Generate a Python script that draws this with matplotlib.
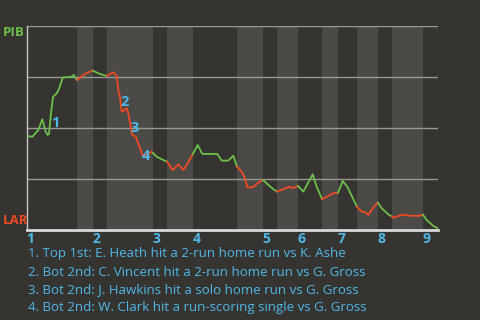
import numpy as np
import matplotlib
matplotlib.use("Agg")
from matplotlib import pyplot as plt

# win probability for PIB (1 = PIB, 0 = LAR)
prog = [0, 5.3, 11.3, 15.3, 18.7, 20.7, 22, 24, 26, 29.7, 32.3, 35.7, 44.7, 46.7, 50,
        56.3, 61.3, 66, 71.3, 76.3, 80, 86.3, 89.7, 91.3, 93, 94.7, 97.3, 99.7, 101.3,
        104, 105.3, 108.7, 113, 115.3, 119.7, 124.7, 129.7, 133, 136.3, 140,
        145.7, 151.3, 156.3, 159.7, 166, 170.7, 175.3, 190.3, 194.7, 201.3, 206.3, 210,
        214.7, 218, 220.3, 225.7, 231.3, 236, 241.3, 246.3, 250, 256.3, 262.3, 266.3, 271,
        276.3, 285.7, 289.7, 295, 299.7, 306.3, 311, 315.7, 320.3, 330, 334.7, 338, 341.3,
        346.3, 351, 354.7, 361.3, 365, 367, 371.3, 378, 383, 391.3, 396, 399.7, 406.3, 411]
wp = [0.461, 0.457, 0.490, 0.543, 0.482, 0.466, 0.471, 0.572, 0.653, 0.670, 0.695, 0.747,
      0.751, 0.760, 0.735, 0.760, 0.773, 0.781, 0.768, 0.760, 0.756, 0.773, 0.756, 0.686,
      0.653, 0.580, 0.588, 0.597, 0.572, 0.499, 0.466, 0.457, 0.400, 0.368, 0.368, 0.384,
      0.359, 0.351, 0.343, 0.335, 0.294, 0.322, 0.294, 0.319, 0.373, 0.417, 0.373, 0.373,
      0.340, 0.340, 0.364, 0.310, 0.286, 0.253, 0.209, 0.209, 0.232, 0.245, 0.221, 0.200,
      0.188, 0.200, 0.212, 0.205, 0.216, 0.188, 0.273, 0.212, 0.152, 0.163, 0.180, 0.183,
      0.240, 0.212, 0.114, 0.090, 0.087, 0.074, 0.111, 0.134, 0.106, 0.077, 0.066, 0.060,
      0.069, 0.075, 0.070, 0.069, 0.075, 0.049, 0.020, 0.008]

# half-inning boundaries (top 1, bot 1, top 2, ...)
halves = [0, 50, 66, 80, 126, 140, 166, 210, 236, 250, 271, 295, 311, 330, 351, 365, 396, 411]
innings = ["1", "2", "3", "4", "5", "6", "7", "8", "9"]

notes = ["1", "2", "3", "4"]
note_x = [28, 98, 108, 118.7]
note_y = [0.526, 0.629, 0.50, 0.364]
plays = [
    "1. Top 1st: E. Heath hit a 2-run home run vs K. Ashe",
    "2. Bot 2nd: C. Vincent hit a 2-run home run vs G. Gross",
    "3. Bot 2nd: J. Hawkins hit a solo home run vs G. Gross",
    "4. Bot 2nd: W. Clark hit a run-scoring single vs G. Gross",
]

bg = "#363430"
band = "#4c4a47"
green = "#6cc04a"
red = "#f04a23"
blue = "#4fb8ea"
font = ["Open Sans", "DejaVu Sans"]

fig = plt.figure(figsize=(4.8, 3.2), dpi=100, facecolor=bg)
ax = fig.add_axes([27/480, 90/320, 411/480, 204/320])
ax.set_facecolor(bg)
ax.set_xlim(0, 411)
ax.set_ylim(0, 1)

# shade bottom halves
for i in range(1, len(halves) - 1, 2):
    ax.axvspan(halves[i], halves[i + 1], color=band, lw=0, zorder=0)

for g in [0.25, 0.5, 0.75, 1.0]:
    ax.axhline(g, color="#9a9894", lw=1, zorder=1)

# line coloured by half inning
x = np.array(prog)
y = np.array(wp)
for i in range(len(halves) - 1):
    a, b = halves[i], halves[i + 1]
    m = (x > a) & (x < b)
    xs = np.concatenate([[a], x[m], [b]])
    ys = np.interp(xs, x, y)
    ax.plot(xs, ys, color=green if i % 2 == 0 else red, lw=1.3, zorder=3,
            solid_joinstyle="round")

for t, nx, ny in zip(notes, note_x, note_y):
    ax.text(nx, ny, t, color=blue, fontsize=10.5, fontweight="bold", family=font,
            ha="center", va="center", zorder=4)

for s in ["top", "right"]:
    ax.spines[s].set_visible(False)
ax.spines["left"].set_color("#c8c8c8")
ax.spines["left"].set_linewidth(1)
ax.spines["bottom"].set_color("#d8d8d8")
ax.spines["bottom"].set_linewidth(2)
ax.set_xticks([])
ax.set_yticks([])

for lab, i in zip(innings, range(0, len(halves), 2)):
    ax.text(halves[i] + 3.5, -0.012, lab, color=blue, fontsize=10, fontweight="bold",
            family=font, ha="center", va="top")

fig.text(3/480, 1 - 32/320, "PIB", color=green, fontsize=9.5, fontweight="bold",
         family=font, ha="left", va="center")
fig.text(3/480, 1 - 221/320, "LAR", color=red, fontsize=9.5, fontweight="bold",
         family=font, ha="left", va="center")

for k, s in enumerate(plays):
    fig.text(28/480, 1 - (254 + 18 * k)/320, s, color=blue, fontsize=9.5,
             family=font, ha="left", va="center")

fig.savefig("out.png", dpi=100, facecolor=bg)
